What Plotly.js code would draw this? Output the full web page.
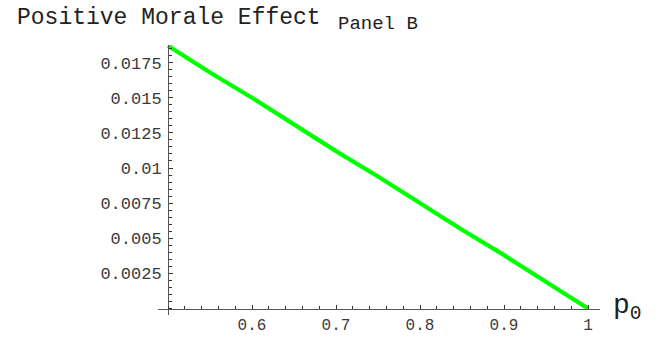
<!DOCTYPE html>
<html>
<head>
<meta charset="utf-8">
<script src="https://cdn.plot.ly/plotly-3.0.1.min.js"></script>
<style>html,body{margin:0;padding:0;background:#fff;}#chart{width:665px;height:339px;}</style>
</head>
<body>
<div id="chart"></div>
<script>
// Data
const p0 = [0.5, 0.55, 0.6, 0.65, 0.7, 0.75, 0.8, 0.85, 0.9, 0.95, 1.0];
const moraleEffect = [0.0187, 0.0168, 0.0150, 0.0131, 0.0112, 0.0094, 0.0075, 0.0056, 0.0038, 0.0019, 0.0];
const xTickVals = [0.6, 0.7, 0.8, 0.9, 1.0];
const xTickText = ['0.6', '0.7', '0.8', '0.9', '1'];
const yTickVals = [0.0025, 0.005, 0.0075, 0.01, 0.0125, 0.015, 0.0175];
const yTickText = ['0.0025', '0.005', '0.0075', '0.01', '0.0125', '0.015', '0.0175'];

// Geometry (pixels)
const W = 665, H = 339;
const L = 158, R = 600, T = 45, B = 315;
const pxPerX = 840, pxPerY = 14050;
const xOriginPx = 168, yZeroPx = 308.5;
const xRange = [0.5 - (xOriginPx - L) / pxPerX, 0.5 + (R - xOriginPx) / pxPerX];
const yRange = [-(B - yZeroPx) / pxPerY, (yZeroPx - T) / pxPerY];
const px2paperX = px => (px - L) / (R - L);
const px2paperY = py => (B - py) / (B - T);

const mono = 'Liberation Mono, Courier New, monospace';
const axisColor = '#555555';
const textColor = '#3a3a3a';

const trace = {
  x: p0, y: moraleEffect, type: 'scatter', mode: 'lines',
  line: {color: '#00ff00', width: 4.2},
  hoverinfo: 'skip'
};

const layout = {
  width: W, height: H,
  margin: {l: L, r: W - R, t: T, b: H - B, pad: 0},
  paper_bgcolor: '#ffffff', plot_bgcolor: '#ffffff',
  showlegend: false,
  xaxis: {
    range: xRange, anchor: 'free', position: px2paperY(yZeroPx),
    showgrid: false, zeroline: false,
    showline: true, linecolor: axisColor, linewidth: 1.2,
    tickmode: 'array', tickvals: xTickVals, ticktext: xTickText,
    ticks: 'inside', ticklen: 4, tickwidth: 1, tickcolor: '#333',
    minor: {dtick: 0.02, tick0: 0.5, ticks: 'inside', ticklen: 2.5, tickwidth: 1, tickcolor: '#333', showgrid: false},
    tickfont: {family: mono, size: 16, color: textColor},
    ticklabelstandoff: 1
  },
  yaxis: {
    range: yRange, anchor: 'free', position: px2paperX(xOriginPx),
    showgrid: false, zeroline: false,
    showline: true, linecolor: axisColor, linewidth: 1.2,
    tickmode: 'array', tickvals: yTickVals, ticktext: yTickText,
    ticks: 'inside', ticklen: 4, tickwidth: 1, tickcolor: '#333',
    minor: {dtick: 0.0005, tick0: 0, ticks: 'inside', ticklen: 2.5, tickwidth: 1, tickcolor: '#333', showgrid: false},
    tickfont: {family: mono, size: 17, color: textColor},
    ticklabelstandoff: 3
  },
  annotations: [
    {text: 'Positive Morale Effect', xref: 'paper', yref: 'paper',
     x: px2paperX(15), y: px2paperY(18), xanchor: 'left', yanchor: 'middle',
     showarrow: false, font: {family: mono, size: 23, color: '#222'}},
    {text: 'Panel B', xref: 'paper', yref: 'paper',
     x: px2paperX(336), y: px2paperY(24), xanchor: 'left', yanchor: 'middle',
     showarrow: false, font: {family: mono, size: 19, color: '#222'}},
    {text: 'p<sub>0</sub>', xref: 'paper', yref: 'paper',
     x: px2paperX(611), y: px2paperY(307), xanchor: 'left', yanchor: 'middle',
     showarrow: false, font: {family: mono, size: 28, color: '#222'}}
  ]
};

Plotly.newPlot('chart', [trace], layout, {displayModeBar: false, staticPlot: true});
</script>
</body>
</html>
